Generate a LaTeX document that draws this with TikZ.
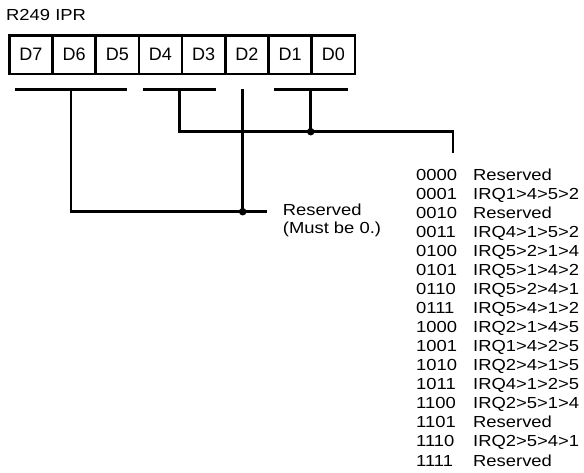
\documentclass[tikz,border=0pt]{standalone}
\usepackage{fontspec}
\setmainfont{Liberation Sans}
\newfontfamily\widefont{Liberation Sans}[FakeStretch=1.15]
\begin{document}
\begin{tikzpicture}[x=1pt,y=-1pt,
  cell/.style={draw, line width=2.6pt, minimum width=43.2pt, minimum height=38.5pt, inner sep=0pt,
    font=\fontsize{18}{18}\selectfont, anchor=north west},
  wire/.style={line width=2.5pt},
  lbl/.style={anchor=base west, inner sep=0pt, font=\widefont\fontsize{16}{16}\selectfont},
  jdot/.style={circle, fill, inner sep=0pt, minimum size=7.5pt}]
\useasboundingbox (0,0) rectangle (584,472);

% title
\node[lbl] (title) at (6,20.7) {R249 IPR};

% register cells
\foreach \n [count=\i from 0] in {7,6,5,4,3,2,1,0}
  \node[cell] (D\n) at ({8+43.2*\i},34) {D\n};

% bracket coordinates
\coordinate (b1l) at (15,89.3);
\coordinate (b1r) at (126.7,89.3);
\coordinate (b1m) at (71,89.3);
\coordinate (b2l) at (143.3,89.3);
\coordinate (b2r) at (216,89.3);
\coordinate (b2m) at (179.3,89.3);
\coordinate (b3m) at (242.7,89.3);
\coordinate (b4l) at (274,89.3);
\coordinate (b4r) at (347.7,89.3);
\coordinate (b4m) at (310.7,89.3);

\coordinate (k1) at (179.3,131.7);
\coordinate (k2) at (453,131.7);
\coordinate (tabtop) at (453,153);
\coordinate (m1) at (71,211.7);
\coordinate (resend) at (266.7,211.7);

\node[jdot] (dotA) at (310.7,131.7) {};
\node[jdot] (dotB) at (242.7,211.7) {};

% brackets
\draw[wire] (b1l) -- (b1r);
\draw[wire] (b2l) -- (b2r);
\draw[wire] (b4l) -- (b4r);

% connectors
\draw[wire] (b2m) -- (k1) -- (k2) -- (tabtop);
\draw[wire] (b4m) -- (dotA.center);
\draw[wire] (b1m) -- (m1) -- (resend);
\draw[wire] (b3m) -- (dotB.center);

% reserved label
\node[lbl] (res1) at (282.7,215.7) {Reserved};
\node[lbl] (res2) at (282.7,233.5) {(Must be 0.)};

% table
\foreach \c/\d [count=\i from 0] in {
  0000/Reserved, 0001/IRQ1>4>5>2, 0010/Reserved, 0011/IRQ4>1>5>2,
  0100/IRQ5>2>1>4, 0101/IRQ5>1>4>2, 0110/IRQ5>2>4>1, 0111/IRQ5>4>1>2,
  1000/IRQ2>1>4>5, 1001/IRQ1>4>2>5, 1010/IRQ2>4>1>5, 1011/IRQ4>1>2>5,
  1100/IRQ2>5>1>4, 1101/Reserved, 1110/IRQ2>5>4>1, 1111/Reserved} {
  \node[lbl] (code\i) at (416,{180+19.07*\i}) {\c};
  \node[lbl] (desc\i) at (473,{180+19.07*\i}) {\d};
}
\end{tikzpicture}
\end{document}
